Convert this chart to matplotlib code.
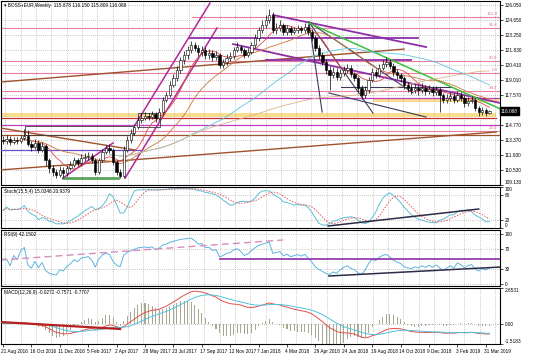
"""Weekly BOSS+EUR chart with stochastic, RSI and MACD panels (MT4 style)."""
import numpy as np
import pandas as pd
import matplotlib
matplotlib.use("Agg")
import matplotlib.pyplot as plt
import matplotlib.transforms as mtransforms

plt.rcParams["font.family"] = ["Liberation Sans", "DejaVu Sans"]

# weekly closes, first bar = week of 21 Aug 2016
closes = [113.27, 113.45, 113.17, 113.36, 113.27, 113.55, 113.74, 112.99, 112.70, 113.08,
          112.42, 112.80, 111.48, 110.73, 110.35, 110.07, 110.54, 110.26, 110.73, 111.01,
          111.48, 111.20, 111.67, 111.76, 111.86, 111.48, 110.35, 111.48, 112.23, 112.61,
          112.42, 111.29, 110.35, 109.98, 112.42, 113.36, 114.02, 114.58, 115.24, 115.43,
          115.62, 115.52, 115.80, 115.43, 115.99, 117.12, 117.59, 118.53, 119.19, 119.94,
          120.88, 121.35, 121.82, 122.29, 122.01, 121.63, 121.82, 121.35, 121.54, 121.16,
          121.35, 120.41, 120.69, 121.07, 121.26, 121.82, 122.10, 121.82, 121.35, 121.63,
          122.29, 122.95, 123.70, 124.17, 124.64, 125.11, 123.70, 123.89, 124.17, 123.51,
          123.89, 123.51, 123.70, 123.89, 123.70, 123.98, 123.51, 122.95, 122.01, 121.35,
          120.69, 119.94, 119.47, 119.75, 119.28, 119.66, 119.94, 120.13, 119.56, 119.19,
          118.25, 117.59, 118.06, 119.00, 119.75, 119.47, 120.13, 120.50, 120.69, 120.32,
          119.75, 119.47, 119.19, 118.53, 118.25, 118.06, 118.25, 118.06, 118.25, 117.97,
          118.15, 117.87, 118.06, 117.59, 117.12, 117.31, 117.50, 117.12, 117.59, 117.31,
          116.84, 117.03, 117.12, 116.37, 115.99, 116.18, 115.90, 116.068]
highs = [113.70, 113.80, 113.75, 113.65, 113.60, 113.85, 114.40, 114.30, 113.30, 113.50,
         113.40, 113.20, 113.00, 111.70, 111.00, 110.60, 110.90, 110.80, 111.00, 111.40,
         111.80, 111.70, 112.00, 112.10, 112.20, 112.10, 111.70, 111.70, 112.50, 112.90,
         113.00, 112.60, 111.50, 110.60, 112.80, 113.70, 114.40, 114.90, 115.60, 115.90,
         116.00, 115.90, 116.10, 116.00, 116.40, 117.40, 117.90, 118.90, 119.60, 120.30,
         121.20, 121.70, 122.20, 122.70, 122.60, 122.30, 122.20, 122.10, 121.90, 121.80,
         121.70, 121.50, 121.00, 121.40, 121.60, 122.10, 122.60, 122.30, 122.00, 122.00,
         122.60, 123.30, 124.00, 124.60, 125.10, 125.70, 125.40, 124.40, 124.60, 124.40,
         124.20, 124.10, 124.00, 124.20, 124.10, 124.40, 124.30, 123.80, 123.20, 122.30,
         121.60, 121.00, 120.30, 120.20, 120.10, 120.00, 120.30, 120.50, 120.40, 119.80,
         119.40, 118.50, 118.40, 119.30, 120.10, 120.00, 120.50, 120.90, 121.20, 121.00,
         120.60, 120.00, 119.70, 119.40, 118.80, 118.60, 118.60, 118.50, 118.70, 118.50,
         118.50, 118.40, 118.40, 118.30, 117.80, 117.70, 117.90, 117.80, 118.00, 117.90,
         117.60, 117.40, 117.50, 117.30, 116.60, 116.50, 116.40, 116.150]
lows = [112.95, 113.00, 112.90, 112.95, 113.00, 113.10, 113.40, 112.80, 112.30, 112.50,
        112.10, 112.20, 110.90, 110.30, 109.95, 109.80, 109.85, 109.90, 110.00, 110.50,
        110.80, 110.90, 111.00, 111.40, 111.50, 111.20, 110.10, 110.20, 111.30, 112.00,
        112.10, 111.00, 110.10, 109.75, 109.80, 112.20, 113.10, 113.80, 114.40, 115.00,
        115.20, 115.20, 115.30, 115.10, 115.20, 115.80, 116.90, 117.40, 118.30, 118.90,
        119.70, 120.50, 121.00, 121.50, 121.70, 121.30, 121.30, 121.00, 121.00, 120.80,
        120.90, 120.10, 120.10, 120.40, 120.80, 121.00, 121.60, 121.50, 121.10, 121.20,
        121.40, 122.00, 122.70, 123.40, 123.90, 124.40, 123.40, 123.30, 123.60, 123.20,
        123.20, 123.20, 123.30, 123.40, 123.40, 123.40, 123.20, 122.70, 121.70, 121.00,
        120.40, 119.60, 118.10, 119.20, 119.00, 119.00, 119.40, 119.70, 119.30, 118.90,
        117.90, 117.20, 117.30, 117.80, 118.80, 119.20, 119.30, 119.90, 120.20, 120.00,
        119.40, 119.10, 118.80, 118.20, 117.90, 117.70, 117.80, 117.60, 117.80, 117.60,
        117.70, 117.50, 117.60, 116.00, 116.80, 116.80, 117.00, 116.80, 116.90, 117.00,
        116.50, 116.60, 116.80, 116.10, 115.60, 115.70, 115.60, 115.809]
first_open = 113.36
last_open = 115.878

price_ticks = [109.130, 110.530, 111.930, 113.370, 114.770, 117.570, 119.010,
               120.410, 121.830, 123.250, 124.650, 126.050]

# trader's drawn objects: (bar index, price) end points
magenta_lines = [((37.2, 114.77), (58.3, 126.24)), ((34.4, 109.79), (60.3, 123.89)),
                 ((16.9, 109.79), (31.0, 113.08))]
purple_lines = [((76.1, 125.11), (119.2, 122.10)), ((64.8, 122.38), (141.4, 116.74)),
                ((52.7, 122.95), (117.0, 122.95)), ((74.1, 120.88), (115.0, 120.88))]
brown_lines = [((-0.8, 114.49), (37.2, 112.42)), ((-0.8, 118.81), (113.0, 121.91)),
               ((-0.8, 110.54), (138.9, 114.11))]
dark_lines = [((86.2, 124.45), (89.9, 115.99)), ((86.2, 124.45), (104.2, 115.90)),
              ((86.2, 124.45), (115.5, 117.78)), ((91.8, 117.78), (119.2, 115.52)),
              ((95.2, 118.34), (126.2, 118.34))]
green_lines = [((86.2, 124.36), (141.4, 116.09))]
support_green = ((16.9, 109.79), (32.4, 109.79))
blue_level = ((-1.0, 112.42), (38.6, 112.42))
pink_levels = [(124.92, 53.2), (123.89, -1), (120.79, -1), (119.66, -1), (117.97, -1), (114.20, -1)]
magenta_levels = [117.31, 114.77]
brown_levels = [113.83]
red_level = 115.43
fib_labels = [("161.8", 124.92), ("61.8", 123.89), ("50.0", 120.79), ("0.0", 119.66),
              ("38.2", 117.97), ("23.6", 114.20)]
yellow_bands = [((-1.0, 138.9), (115.52, 115.90)), ((104.2, 139.7), (116.93, 117.22))]

stoch_line = ((91.6, 4.9), (134.0, 46.3))
rsi_level = ((61.1, 50), (140.3, 50))
rsi_trend = ((91.8, 16), (140.3, 34))
rsi_dashed = ((-0.8, 48), (78.9, 88))
macd_trend = ((-0.8, 0.12), (33.0, -0.40))

# ---- frame
c = pd.Series(closes)
h = pd.Series(highs)
l = pd.Series(lows)
o = c.shift(1)
o.iloc[0] = first_open
o.iloc[-1] = last_open
n = len(c)
idx = np.arange(n)
dates = pd.date_range("2016-08-21", periods=n, freq="W-SUN")

# ---- indicators
ma_fast = c.rolling(8, min_periods=1).mean()
ma_mid = c.rolling(21, min_periods=1).mean()
ma_50 = c.rolling(50, min_periods=1).mean()
ma_100 = c.rolling(100, min_periods=1).mean()

ll = l.rolling(15, min_periods=1).min()
hh = h.rolling(15, min_periods=1).max()
stoch_k = 100 * (c - ll).rolling(4, min_periods=1).sum() / (hh - ll).rolling(4, min_periods=1).sum()
stoch_d = stoch_k.rolling(5, min_periods=1).mean()

delta = c.diff().fillna(0)
gain = delta.clip(lower=0).ewm(alpha=1 / 9, adjust=False).mean()
loss = (-delta.clip(upper=0)).ewm(alpha=1 / 9, adjust=False).mean()
rsi = 100 - 100 / (1 + gain / loss.replace(0, np.nan))
rsi = rsi.fillna(50)

macd = c.ewm(span=12, adjust=False).mean() - c.ewm(span=26, adjust=False).mean()
signal = macd.ewm(span=9, adjust=False).mean()
osma = 3 * (macd - signal)  # histogram drawn magnified, as the terminal does

# ---- figure
fig = plt.figure(figsize=(5.36, 3.58), dpi=100)
W, H = 536, 358
x0, x1 = 1, 500


def panel(top, bottom):
    return fig.add_axes([x0 / W, 1 - bottom / H, (x1 - x0) / W, (bottom - top) / H])


ax = panel(1, 185)
ax_st = panel(187, 228)
ax_rsi = panel(230, 286)
ax_macd = panel(288, 344)
axes = [ax, ax_st, ax_rsi, ax_macd]

xlim = (-0.56, 140.0)
grid_x = (np.arange(5.5, 500, 15.3) - 3) / 3.55
lab_idx = list(range(0, n, 8))
fs = 3.4
for a in axes:
    a.set_xlim(*xlim)
    a.yaxis.tick_right()
    a.tick_params(axis="both", labelsize=fs, length=2, width=0.5, pad=1.5, colors="black")
    a.set_xticks(grid_x, minor=True)
    a.tick_params(axis="x", which="minor", length=0)
    a.grid(True, axis="x", which="minor", ls=(0, (1, 2)), color="#9a9a9a", lw=0.5)
    a.grid(True, axis="y", which="major", ls=(0, (1, 2)), color="#9a9a9a", lw=0.5)
    a.set_xticks(lab_idx)
    for s in a.spines.values():
        s.set_linewidth(0.8)
        s.set_color("black")
    if a is not ax_macd:
        a.set_xticklabels([])
        a.tick_params(axis="x", which="major", length=0)

ax_macd.set_xticklabels([f"{d.day} {d:%b %Y}" for d in dates[lab_idx]], ha="left")
for t in ax_macd.get_xticklabels():
    t.set_transform(t.get_transform() + mtransforms.ScaledTranslation(-1.5 / 100, 0, fig.dpi_scale_trans))

# ---- main price panel
ax.set_ylim(109.13, 126.43)
ax.set_yticks(price_ticks)
ax.set_yticklabels([f"{p:.3f}" for p in price_ticks])
ax.get_yticklabels()[0].set_va("bottom")

for (xa, xb), (ya, yb) in yellow_bands:
    ax.fill_between([xa, xb], ya, yb, color="#f7d87a", alpha=0.85, lw=0, zorder=1)
for y, xs in pink_levels:
    ax.plot([xs, 141], [y, y], color="#e77fa0", lw=0.8, zorder=2)
for y in magenta_levels:
    ax.plot([-1, 141], [y, y], color="#c23fc2", lw=0.9, zorder=2)
for y in brown_levels:
    ax.plot([-1, 141], [y, y], color="#a0522d", lw=0.9, zorder=2)
ax.plot([-1, 138.9], [red_level, red_level], color="#b8342c", lw=0.9, zorder=2)
for txt, y in fib_labels:
    ax.text(139.3, y + 0.08, txt, color="#e0709a", fontsize=3.2, ha="right", va="bottom", zorder=6)

ax.plot(*zip(*support_green), color="#5aa55a", lw=2.0, zorder=3)
ax.plot(*zip(*blue_level), color="#6a4fc8", lw=0.9, zorder=3)
for seg in brown_lines:
    ax.plot(*zip(*seg), color="#a0522d", lw=1.0, zorder=3)
for seg in magenta_lines:
    ax.plot(*zip(*seg), color="#b02a95", lw=1.1, zorder=3)
for seg in purple_lines:
    ax.plot(*zip(*seg), color="#8e2fa8", lw=1.3, zorder=3)
for seg in dark_lines:
    ax.plot(*zip(*seg), color="#3c3c5a", lw=0.8, zorder=3)
for seg in green_lines:
    ax.plot(*zip(*seg), color="#3cc03c", lw=1.1, zorder=3)

# small boxes drawn on the chart
ax.add_patch(plt.Rectangle((6.2, 113.83), 30.4, 0.85, fill=False, ec="#3c3c3c", lw=0.6, zorder=3))
ax.add_patch(plt.Rectangle((38.0, 114.6), 6.2, 1.3, fill=False, ec="#3c3c3c", lw=0.6, zorder=3))

ax.plot(idx, ma_fast, color="#e04848", lw=0.6, zorder=4)
ax.plot(idx, ma_mid, color="#c8783c", lw=0.6, zorder=4)
ax.plot(idx[30:], ma_50[30:], color="#5cc8dc", lw=0.6, zorder=4)
ax.plot(idx[30:], ma_100[30:], color="#dcb48a", lw=0.6, zorder=4)

# candles
bull = c >= o
ax.vlines(idx, l, h, color="black", lw=0.5, zorder=5)
body_lo = np.minimum(o, c)
body_h = np.maximum(np.abs(c - o), 0.04)
ax.bar(idx[bull], body_h[bull], bottom=body_lo[bull], width=0.65, color="white",
       edgecolor="black", lw=0.4, zorder=6)
ax.bar(idx[~bull], body_h[~bull], bottom=body_lo[~bull], width=0.65, color="black",
       edgecolor="black", lw=0.4, zorder=6)

ax.text(0.006, 0.99, "\u25be BOSS+EUR,Weekly  115.878 116.150 115.809 116.068",
        transform=ax.transAxes, fontsize=fs, va="top", ha="left", zorder=7)
trans = mtransforms.blended_transform_factory(ax.transAxes, ax.transData)
ax.text(1.002, closes[-1], f"{closes[-1]:.3f}", transform=trans, fontsize=fs, color="white",
        va="center", ha="left", zorder=8, clip_on=False,
        bbox=dict(boxstyle="square,pad=0.3", fc="black", ec="black"))

# ---- stochastic
ax_st.set_ylim(0, 100)
ax_st.set_yticks([0, 20, 80, 100])
ax_st.set_yticklabels(["0", "20", "80", "100"])
ax_st.get_yticklabels()[0].set_va("bottom")
ax_st.get_yticklabels()[3].set_va("top")
ax_st.plot(idx, stoch_k, color="#5cc0d4", lw=0.7)
ax_st.plot(idx, stoch_d, color="#e05a5a", lw=0.7, ls=(0, (1.5, 1.5)))
ax_st.plot(*zip(*stoch_line), color="#2c2c48", lw=1.1)
ax_st.text(0.006, 0.96, "Stoch(15,5,4) 15.0346 20.9379", transform=ax_st.transAxes,
           fontsize=fs, va="top")

# ---- RSI
ax_rsi.set_ylim(-4, 108)
ax_rsi.set_yticks([0, 30, 70, 100])
ax_rsi.set_yticklabels(["0", "30", "70", "100"])
ax_rsi.plot(idx, rsi, color="#5cb4e0", lw=0.7)
ax_rsi.plot(*zip(*rsi_level), color="#8e2fa8", lw=1.2)
ax_rsi.plot(*zip(*rsi_trend), color="#2c2c48", lw=1.1)
ax_rsi.plot(*zip(*rsi_dashed), color="#d88cbc", lw=1.0, ls=(0, (5, 3)))
ax_rsi.text(0.006, 0.96, "RSI(9) 42.1502", transform=ax_rsi.transAxes, fontsize=fs, va="top")

# ---- MACD
ax_macd.set_ylim(-1.5183, 2.6531)
ax_macd.set_yticks([-1.5183, 0.0, 2.6531])
ax_macd.set_yticklabels(["-1.5183", "0.00", "2.6531"])
ax_macd.get_yticklabels()[0].set_va("bottom")
ax_macd.get_yticklabels()[2].set_va("top")
ax_macd.bar(idx, osma, width=0.3, color="#a8a890", zorder=2)
ax_macd.plot(idx, macd, color="#e05050", lw=0.7, zorder=3)
ax_macd.plot(idx, signal, color="#50c4dc", lw=0.7, zorder=3)
ax_macd.plot(*zip(*macd_trend), color="#b82020", lw=1.6, zorder=3)
ax_macd.text(0.006, 0.96, "MACD(12,26,9) -0.0272 -0.7571 -0.7707", transform=ax_macd.transAxes,
             fontsize=fs, va="top")

fig.savefig("out.png", dpi=100)
plt.close(fig)
